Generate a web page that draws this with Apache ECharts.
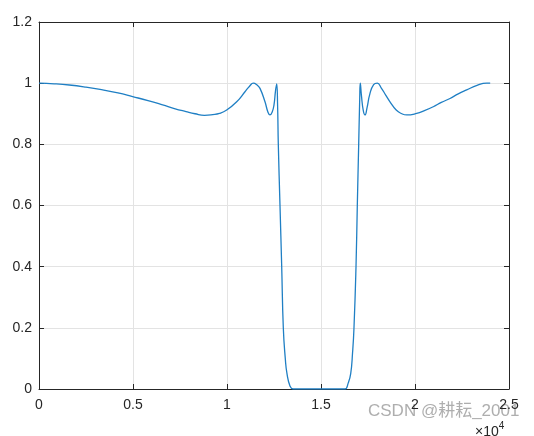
<!DOCTYPE html>
<html>
<head>
<meta charset="utf-8">
<script src="https://cdn.jsdelivr.net/npm/echarts@6/dist/echarts.min.js"></script>
<style>html,body{margin:0;padding:0;background:#fff}#c{width:534px;height:436px}</style>
</head>
<body>
<div id="c"></div>
<script>
var xValues = [0, 800, 1612, 2500, 3387, 4200, 4982, 5800, 6578, 7200, 7819, 8300, 8800, 9238, 9600, 9984, 10516, 10957, 11200, 11400, 11600, 11755, 12021, 12180, 12287, 12400, 12500, 12580, 12643, 12690, 12729, 12819, 12910, 12995, 13100, 13191, 13350, 13511,
  14000, 15000, 16000, 16277, 16450, 16580, 16680, 16755, 16862, 16931, 17005, 17060, 17090, 17150, 17250, 17340, 17450, 17600, 17800, 17995, 18200, 18450, 18670, 19000, 19300, 19559, 20090, 20500, 20974, 21400, 21862, 22300, 22750, 23300, 23814, 24000];
var yValues = [1.0, 0.998, 0.994, 0.987, 0.978, 0.968, 0.956, 0.943, 0.929, 0.917, 0.907, 0.900, 0.895, 0.897, 0.901, 0.912, 0.939, 0.972, 0.990, 1.0, 0.994, 0.983, 0.939, 0.905, 0.896, 0.905, 0.929, 0.975, 0.998, 0.93, 0.8, 0.6, 0.4, 0.2, 0.1, 0.05, 0.01, 0,
  0, 0, 0, 0, 0.02, 0.05, 0.12, 0.2, 0.4, 0.6, 0.8, 0.95, 1.0, 0.96, 0.91, 0.896, 0.92, 0.965, 0.995, 1.0, 0.985, 0.96, 0.939, 0.912, 0.9, 0.896, 0.901, 0.91, 0.923, 0.937, 0.950, 0.965, 0.978, 0.993, 1.0, 1.0];
var xTicks = [0, 5000, 10000, 15000, 20000, 25000];
var yTicks = [0, 0.2, 0.4, 0.6, 0.8, 1, 1.2];

var pts = xValues.map(function (x, i) { return [x, yValues[i]]; });
var chart = echarts.init(document.getElementById('c'), null, {renderer: 'canvas'});
var txt = '#262626';
var font = 'Liberation Sans, Arial, sans-serif';
var axisCommon = {
  axisLine: {show: true, onZero: false, lineStyle: {color: txt, width: 1}},
  axisTick: {show: true, inside: true, length: 5, lineStyle: {color: txt}},
  splitLine: {show: true, lineStyle: {color: '#e3e3e3', width: 1}},
  axisLabel: {color: txt, fontSize: 14, fontFamily: font}
};
chart.setOption({
  animation: false,
  grid: {left: 39, right: 25, top: 22, bottom: 47, containLabel: false},
  xAxis: [
    Object.assign({}, axisCommon, {type: 'value', position: 'bottom', min: xTicks[0], max: xTicks[xTicks.length - 1], interval: 5000,
      axisLabel: Object.assign({}, axisCommon.axisLabel, {margin: 9, formatter: function (v) { return String(v / 10000); }})}),
    {type: 'value', position: 'top', min: xTicks[0], max: xTicks[xTicks.length - 1], interval: 5000,
      axisLine: {show: true, onZero: false, lineStyle: {color: txt}}, axisTick: {show: true, inside: true, length: 5, lineStyle: {color: txt}},
      axisLabel: {show: false}, splitLine: {show: false}}
  ],
  yAxis: [
    Object.assign({}, axisCommon, {type: 'value', position: 'left', min: yTicks[0], max: yTicks[yTicks.length - 1], interval: 0.2,
      axisLabel: Object.assign({}, axisCommon.axisLabel, {margin: 7})}),
    {type: 'value', position: 'right', min: yTicks[0], max: yTicks[yTicks.length - 1], interval: 0.2,
      axisLine: {show: true, onZero: false, lineStyle: {color: txt}}, axisTick: {show: true, inside: true, length: 5, lineStyle: {color: txt}},
      axisLabel: {show: false}, splitLine: {show: false}}
  ],
  series: [{
    type: 'line', data: pts, xAxisIndex: 0, yAxisIndex: 0,
    showSymbol: false, smooth: 0.5,
    lineStyle: {color: '#1f7fc4', width: 1.3}
  }],
  graphic: [
    {type: 'text', left: 475, top: 421, style: {
      text: '{a|×10}{b|4}', fill: txt,
      rich: {a: {fontSize: 14, fontFamily: font, fill: txt, verticalAlign: 'bottom'}, b: {fontSize: 10, fontFamily: font, fill: txt, verticalAlign: 'top', padding: [0, 0, 8, 0]}}
    }},
    {type: 'text', left: 368, top: 403, style: {text: 'CSDN @耕耘_2001', fontSize: 17, fontFamily: 'Liberation Sans, Noto Sans CJK SC, sans-serif', fill: 'rgba(160,160,160,0.85)'}}
  ]
});
</script>
</body>
</html>
